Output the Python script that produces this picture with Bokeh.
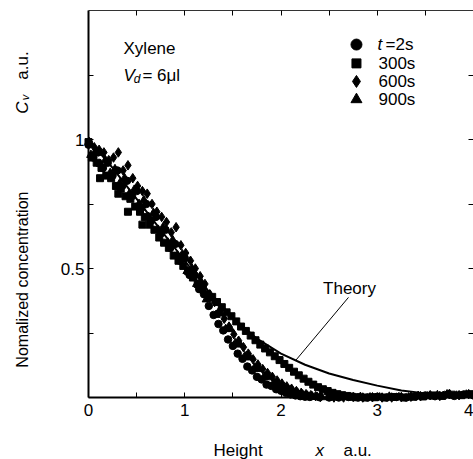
from bokeh.plotting import figure
from bokeh.models import Range1d, LinearAxis, FixedTicker, Label
from bokeh.embed import file_html
from bokeh.resources import INLINE

FONT = "Liberation Sans"

# ---------------- data ----------------
circ_x = [0.00, 0.05, 0.10, 0.15, 0.20, 0.25, 0.30, 0.35, 0.40, 0.45,
          0.50, 0.55, 0.60, 0.65, 0.70, 0.75, 0.80, 0.85, 0.90, 0.95,
          1.00, 1.05, 1.10, 1.15, 1.20, 1.25, 1.30, 1.35, 1.40, 1.45,
          1.50, 1.55, 1.60, 1.65, 1.70, 1.75, 1.80, 1.85, 1.90, 1.95,
          2.00, 2.05, 2.10, 2.15, 2.20, 2.25, 2.30, 2.40, 2.50, 2.60,
          2.70, 2.80, 2.90, 3.00, 3.10, 3.20, 3.30, 3.40, 3.50, 3.60,
          3.70, 3.80, 3.90, 4.00]
circ_y = [0.98, 0.93, 0.95, 0.89, 0.91, 0.86, 0.88, 0.82, 0.84, 0.78,
          0.80, 0.735, 0.75, 0.685, 0.70, 0.635, 0.65, 0.58, 0.595, 0.53,
          0.54, 0.475, 0.475, 0.42, 0.40, 0.355, 0.32, 0.285, 0.26, 0.225,
          0.20, 0.17, 0.15, 0.12, 0.105, 0.08, 0.07, 0.05, 0.045, 0.032,
          0.026, 0.018, 0.012, 0.008, 0.005, 0.003, 0.002, 0.001, 0.0, 0.0,
          0.002, 0.0, 0.0, 0.003, 0.0, 0.002, 0.0, 0.004, 0.008, 0.005,
          0.010, 0.006, 0.012, 0.008]

sq_x = [0.00, 0.035, 0.085, 0.12, 0.135, 0.185, 0.235, 0.285, 0.31, 0.335,
        0.385, 0.41, 0.435, 0.485, 0.535, 0.56, 0.585, 0.635, 0.685, 0.735,
        0.785, 0.835, 0.885, 0.935, 0.985, 1.035, 1.085, 1.135, 1.185, 1.235,
        1.285, 1.335, 1.385, 1.435, 1.485, 1.535, 1.585, 1.635, 1.685, 1.735,
        1.785, 1.835, 1.885, 1.935, 1.985, 2.035, 2.085, 2.135, 2.185, 2.235,
        2.285, 2.335, 2.385, 2.435, 2.485, 2.535, 2.585, 2.635, 2.685, 2.735,
        2.785, 2.875, 2.975, 3.075, 3.175, 3.275, 3.375, 3.475, 3.575, 3.675,
        3.775, 3.875, 3.975]
sq_y = [0.99, 0.93, 0.91, 0.85, 0.89, 0.86, 0.85, 0.82, 0.79, 0.81,
        0.78, 0.72, 0.77, 0.74, 0.72, 0.67, 0.70, 0.67, 0.65, 0.62,
        0.60, 0.58, 0.55, 0.53, 0.51, 0.49, 0.465, 0.44, 0.42, 0.40,
        0.39, 0.37, 0.35, 0.33, 0.315, 0.295, 0.275, 0.258, 0.24, 0.222,
        0.205, 0.19, 0.175, 0.16, 0.145, 0.13, 0.115, 0.10, 0.086, 0.073,
        0.061, 0.05, 0.04, 0.032, 0.025, 0.018, 0.013, 0.009, 0.006, 0.003,
        0.001, 0.0, 0.001, 0.0, 0.002, 0.0, 0.003, 0.004, 0.008, 0.006,
        0.011, 0.009, 0.013]

dia_x = [0.01, 0.06, 0.11, 0.16, 0.21, 0.26, 0.31, 0.36, 0.41, 0.46,
         0.51, 0.56, 0.61, 0.66, 0.71, 0.76, 0.81, 0.86, 0.91, 0.96,
         1.01, 1.06, 1.11, 1.16, 1.21, 1.26, 1.31, 1.36, 1.41, 1.46,
         1.51, 1.56, 1.61, 1.66, 1.71, 1.76, 1.81, 1.86, 1.91, 1.96,
         2.01, 2.06, 2.11, 2.16, 2.21, 2.26, 2.31, 2.36, 2.41, 2.55,
         2.65, 2.75, 2.85, 2.95, 3.05, 3.15, 3.25, 3.35, 3.45, 3.55,
         3.65, 3.75, 3.85, 3.95]
dia_y = [0.99, 0.97, 0.96, 0.95, 0.92, 0.93, 0.95, 0.88, 0.90, 0.85,
         0.82, 0.80, 0.79, 0.75, 0.72, 0.70, 0.68, 0.64, 0.66, 0.59,
         0.56, 0.53, 0.50, 0.47, 0.44, 0.40, 0.37, 0.335, 0.305, 0.275,
         0.245, 0.22, 0.195, 0.17, 0.148, 0.128, 0.11, 0.095, 0.08, 0.066,
         0.054, 0.043, 0.034, 0.025, 0.018, 0.013, 0.009, 0.005, 0.002, 0.0,
         0.0, 0.002, 0.0, 0.001, 0.0, 0.0, 0.002, 0.003, 0.005, 0.009,
         0.006, 0.014, 0.009, 0.013]

tri_x = [0.025, 0.075, 0.125, 0.175, 0.225, 0.275, 0.325, 0.375, 0.425, 0.475,
         0.525, 0.575, 0.625, 0.675, 0.725, 0.775, 0.825, 0.875, 0.925, 0.975,
         1.025, 1.075, 1.125, 1.175, 1.225, 1.275, 1.325, 1.375, 1.425, 1.475,
         1.525, 1.575, 1.625, 1.675, 1.725, 1.775, 1.825, 1.875, 1.925, 1.975,
         2.025, 2.075, 2.125, 2.175, 2.225, 2.275, 2.325, 2.375, 2.425, 2.525,
         2.625, 2.725, 2.825, 2.925, 3.025, 3.125, 3.225, 3.325, 3.425, 3.525,
         3.625, 3.725, 3.825, 3.925]
tri_y = [0.94, 0.955, 0.905, 0.92, 0.87, 0.885, 0.83, 0.85, 0.79, 0.805,
         0.75, 0.765, 0.70, 0.715, 0.65, 0.66, 0.60, 0.61, 0.55, 0.555,
         0.49, 0.50, 0.44, 0.445, 0.38, 0.385, 0.32, 0.325, 0.265, 0.265,
         0.21, 0.205, 0.16, 0.155, 0.115, 0.11, 0.08, 0.078, 0.055, 0.05,
         0.035, 0.03, 0.022, 0.016, 0.011, 0.007, 0.004, 0.002, 0.001, 0.0,
         0.001, 0.0, 0.002, 0.0, 0.0, 0.003, 0.001, 0.0, 0.006, 0.004,
         0.009, 0.012, 0.007, 0.011]

theory_x = [0.0, 0.25, 0.5, 0.75, 1.0, 1.25, 1.5, 1.75, 2.0, 2.25, 2.5, 2.75,
            3.0, 3.25, 3.5, 3.75, 4.0]
theory_y = [1.0, 0.89, 0.77, 0.65, 0.53, 0.41, 0.31, 0.228, 0.17, 0.127,
            0.093, 0.068, 0.046, 0.027, 0.016, 0.010, 0.007]

x_ticks = [0, 1, 2, 3, 4]
x_minor = [0.5, 1.5, 2.5, 3.5]
y_ticks = [0.5, 1.0]
y_minor = [0.25, 0.75, 1.25]

legend_labels = ["300s", "600s", "900s"]

# ---------------- figure ----------------
# The frame covers the whole page; axes are pinned at the data edges
# so that titles and labels outside the data box are not clipped.
X_LO, X_HI = -0.91429, 4.0
Y_LO, Y_HI = -0.24031, 1.53876

p = figure(width=473, height=459, x_range=Range1d(X_LO, X_HI), y_range=Range1d(Y_LO, Y_HI),
           output_backend="svg", toolbar_location=None,
           min_border=0, min_border_left=0, min_border_right=0,
           min_border_top=0, min_border_bottom=0)
p.grid.visible = False
p.background_fill_color = "white"
p.border_fill_color = "white"
p.outline_line_color = None


def style_axis(ax, width=2, color="black"):
    ax.axis_line_width = width
    ax.axis_line_color = color
    ax.major_tick_in = 5
    ax.major_tick_out = 0
    ax.minor_tick_in = 5
    ax.minor_tick_out = 0
    ax.major_tick_line_color = "black"
    ax.minor_tick_line_color = "black"
    ax.major_label_text_font = FONT
    ax.major_label_text_font_size = "17px"
    ax.major_label_text_color = "black"


xa = p.xaxis[0]
xa.ticker = FixedTicker(ticks=x_ticks, minor_ticks=x_minor)
style_axis(xa)
xa.fixed_location = 0
xa.bounds = (0, 4)
xa.major_label_standoff = 6

ya = p.yaxis[0]
ya.ticker = FixedTicker(ticks=y_ticks, minor_ticks=y_minor)
style_axis(ya)
ya.fixed_location = 0
ya.bounds = (0, 1.5)
ya.major_label_standoff = 4

# top and right spines: only (unlabelled) minor ticks
top = LinearAxis(ticker=FixedTicker(ticks=[], minor_ticks=x_minor + x_ticks[1:4]))
style_axis(top, 1, "#333333")
top.fixed_location = 1.5
top.bounds = (0, 4)
p.add_layout(top, "above")

right = LinearAxis(ticker=FixedTicker(ticks=[], minor_ticks=y_minor + y_ticks))
style_axis(right, 1, "#333333")
right.fixed_location = 4
right.bounds = (0, 1.5)
p.add_layout(right, "right")

# theory curve (drawn first so that data covers it)
p.line(theory_x, theory_y, line_color="black", line_width=2)

# data
p.scatter(circ_x, circ_y, marker="circle", size=7.5, color="black")
p.scatter(sq_x, sq_y, marker="square", size=7, color="black")
p.scatter(dia_x, dia_y, marker="diamond", size=9.5, color="black")
p.scatter(tri_x, tri_y, marker="triangle", size=8.5, color="black")

# leader line for "Theory"
p.segment(x0=[2.151], y0=[0.143], x1=[2.701], y1=[0.388], line_color="black", line_width=1)


def lab(x, y, text, size="17px", style="normal", align="left", baseline="alphabetic", angle=0.0):
    p.add_layout(Label(x=x, y=y, text=text, text_font=FONT, text_font_size=size,
                       text_font_style=style, text_align=align, text_baseline=baseline,
                       text_color="black", angle=angle))


lab(2.712, 0.4225, "Theory", align="center")
lab(0.364, 1.3527, "Xylene")
lab(0.364, 1.248, "V", style="italic")
lab(0.47, 1.235, "d", size="12px", style="italic")
lab(0.56, 1.248, "= 6\u03bcl")

# legend (manual)
mk_x = 2.784
rows = [1.368, 1.295, 1.225, 1.155]
p.scatter([mk_x], [rows[0]], marker="circle", size=11, color="black")
p.scatter([mk_x], [rows[1]], marker="square", size=9, color="black")
p.scatter([mk_x], [rows[2]], marker="diamond", size=12, color="black")
p.scatter([mk_x], [rows[3]], marker="triangle", size=11, color="black")
lab(3.003, rows[0], "t", style="italic", baseline="middle")
lab(3.086, rows[0], "=2s", baseline="middle")
for r, t in zip(rows[1:], legend_labels):
    lab(3.013, r, t, baseline="middle")

# axis titles
lab(1.299, -0.205, "Height")
lab(2.358, -0.205, "x", style="italic")
lab(2.649, -0.205, "a.u.")

ROT = 1.5707963
lab(-0.686, 0.457, "Nomalized concentration", size="16px", align="center", baseline="middle", angle=ROT)
lab(-0.686, 1.124, "C", style="italic", align="center", baseline="middle", angle=ROT)
lab(-0.655, 1.163, "v", size="11px", style="italic", align="center", baseline="middle", angle=ROT)
lab(-0.686, 1.287, "a.u.", align="center", baseline="middle", angle=ROT)

open("out.html", "w").write(file_html(p, INLINE))
